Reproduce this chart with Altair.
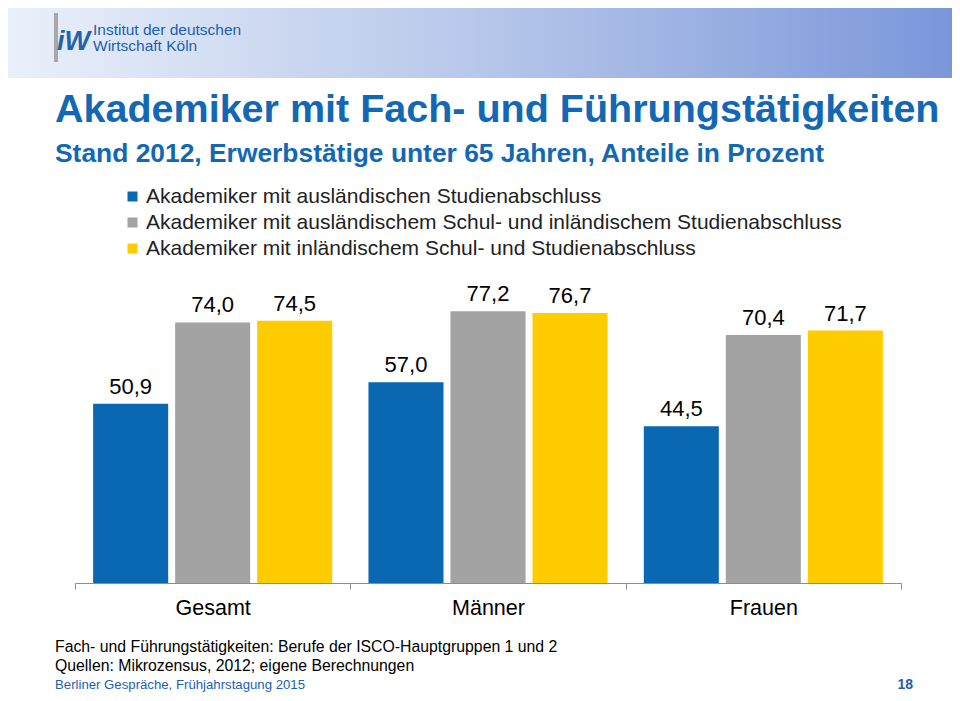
import altair as alt
import pandas as pd

# ---------------- data ----------------
groups = ["Gesamt", "Männer", "Frauen"]
series = [
    "Akademiker mit ausländischen Studienabschluss",
    "Akademiker mit ausländischem Schul- und inländischem Studienabschluss",
    "Akademiker mit inländischem Schul- und Studienabschluss",
]
vals_foreign = [50.9, 57.0, 44.5]
vals_mixed = [74.0, 77.2, 70.4]
vals_domestic = [74.5, 76.7, 71.7]
colors = ["#0A67B1", "#A3A3A3", "#FFCC00"]

title_text = ["Akademiker mit Fach- und Führungstätigkeiten"]
subtitle_text = ["Stand 2012, Erwerbstätige unter 65 Jahren, Anteile in Prozent"]
header_lines = ["Institut der deutschen", "Wirtschaft Köln"]
logo_text = ["iW"]
notes = [
    "Fach- und Führungstätigkeiten: Berufe der ISCO-Hauptgruppen 1 und 2",
    "Quellen: Mikrozensus, 2012; eigene Berechnungen",
]
footer_left = ["Berliner Gespräche, Frühjahrstagung 2015"]
footer_right = ["18"]

FONT = "Liberation Sans"
BLUE_TXT = "#1268B4"

rows = []
for s, vals in zip(series, [vals_foreign, vals_mixed, vals_domestic]):
    for g, v in zip(groups, vals):
        rows.append({"group": g, "series": s, "value": v,
                     "label": f"{v:.1f}".replace(".", ",")})
df = pd.DataFrame(rows)

W, H = 826, 300
PAD = {"left": 67, "top": 275, "right": 51, "bottom": 110}

x_enc = alt.X("group:N", sort=groups,
              scale=alt.Scale(paddingInner=0, paddingOuter=0),
              axis=alt.Axis(title=None, labelAngle=0, labelFontSize=21.5, labelFont=FONT,
                            labelColor="#000000", domainColor="#8C8C8C", tickColor="#8C8C8C",
                            tickSize=6, tickBand="extent", labelPadding=8, grid=False))
xo_enc = alt.XOffset("series:N", sort=series,
                     scale=alt.Scale(paddingInner=0.085, paddingOuter=0.221))
y_enc = alt.Y("value:Q", scale=alt.Scale(domain=[0, 85.2], nice=False), axis=None)

bars = alt.Chart(df).mark_bar().encode(
    x=x_enc, xOffset=xo_enc, y=y_enc,
    color=alt.Color("series:N", sort=series,
                    scale=alt.Scale(domain=series, range=colors),
                    legend=alt.Legend(title=None, orient="none", legendX=47, legendY=-97,
                                      symbolType="square", symbolSize=100, symbolStrokeWidth=0,
                                      labelFontSize=21, labelFont=FONT, labelColor="#222222",
                                      labelOffset=3, rowPadding=4, padding=0, labelLimit=900)),
)

labels = alt.Chart(df).mark_text(dy=-17, baseline="middle", fontSize=22, font=FONT,
                                 color="#000000").encode(
    x=alt.X("group:N", sort=groups), xOffset=alt.XOffset("series:N", sort=series),
    y="value:Q", text="label:N")

one = pd.DataFrame({"a": [0]})
header = alt.Chart(one).mark_rect(
    color=alt.Gradient(gradient="linear",
                       stops=[alt.GradientStop(color="#EAF0FA", offset=0),
                              alt.GradientStop(color="#B7C7EA", offset=0.5),
                              alt.GradientStop(color="#7B97DA", offset=1)],
                       x1=0, x2=1, y1=0, y2=0)
).encode(x=alt.value(-67), x2=alt.value(877), y=alt.value(-275), y2=alt.value(-205))

logo_bar = alt.Chart(one).mark_rect(color="#A8A8A8").encode(
    x=alt.value(-21), x2=alt.value(-17), y=alt.value(-270), y2=alt.value(-221))

logo = alt.Chart(pd.DataFrame({"t": logo_text})).mark_text(
    align="left", baseline="alphabetic", fontSize=27, fontWeight="bold", fontStyle="italic",
    font=FONT, color="#1F62AE").encode(
    text="t:N", x=alt.value(-18), y=alt.value(-233))

hdr1 = alt.Chart(pd.DataFrame({"t": header_lines[:1]})).mark_text(
    align="left", baseline="middle", fontSize=15.5, font=FONT, color="#1B5FAF").encode(
    text="t:N", x=alt.value(18), y=alt.value(-253))
hdr2 = alt.Chart(pd.DataFrame({"t": header_lines[1:]})).mark_text(
    align="left", baseline="middle", fontSize=15.5, font=FONT, color="#1B5FAF").encode(
    text="t:N", x=alt.value(18), y=alt.value(-237))

title = alt.Chart(pd.DataFrame({"t": title_text})).mark_text(
    align="left", baseline="alphabetic", fontSize=39.5, fontWeight="bold", font=FONT,
    color=BLUE_TXT).encode(text="t:N", x=alt.value(-20), y=alt.value(-161))
subtitle = alt.Chart(pd.DataFrame({"t": subtitle_text})).mark_text(
    align="left", baseline="alphabetic", fontSize=26.4, fontWeight="bold", font=FONT,
    color=BLUE_TXT).encode(text="t:N", x=alt.value(-20), y=alt.value(-121))

note1 = alt.Chart(pd.DataFrame({"t": notes[:1]})).mark_text(
    align="left", baseline="middle", fontSize=15.8, font=FONT, color="#000000").encode(
    text="t:N", x=alt.value(-20), y=alt.value(364))
note2 = alt.Chart(pd.DataFrame({"t": notes[1:]})).mark_text(
    align="left", baseline="middle", fontSize=15.8, font=FONT, color="#000000").encode(
    text="t:N", x=alt.value(-20), y=alt.value(383))
foot_l = alt.Chart(pd.DataFrame({"t": footer_left})).mark_text(
    align="left", baseline="middle", fontSize=13.2, font=FONT, color="#1B5FAF").encode(
    text="t:N", x=alt.value(-20), y=alt.value(402))
foot_r = alt.Chart(pd.DataFrame({"t": footer_right})).mark_text(
    align="right", baseline="middle", fontSize=14, fontWeight="bold", font=FONT,
    color="#1B5FAF").encode(text="t:N", x=alt.value(838), y=alt.value(402))

chart = alt.layer(
    header, logo_bar, logo, hdr1, hdr2, title, subtitle,
    bars, labels, note1, note2, foot_l, foot_r
).properties(
    width=W, height=H, padding=PAD, autosize=alt.AutoSizeParams(type="none"),
    background="#FFFFFF"
).configure_view(stroke=None)

chart.save("out.html", embed_options={"renderer": "svg", "actions": False})
